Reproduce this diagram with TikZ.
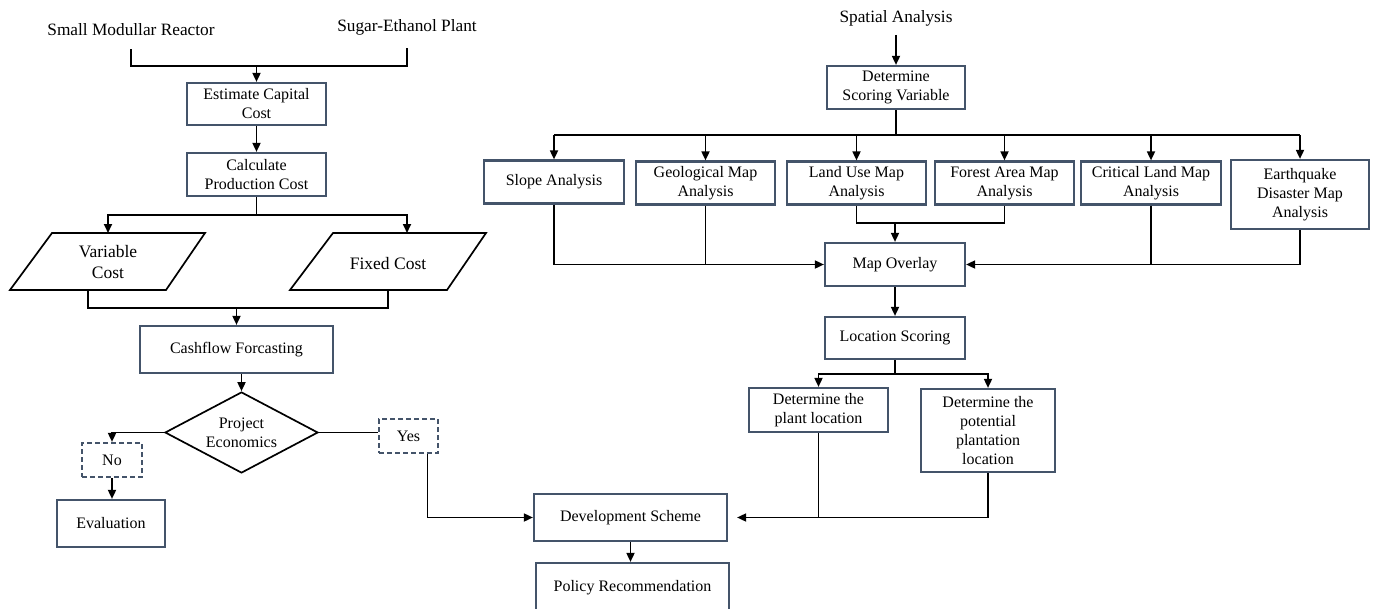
\documentclass[tikz,border=0pt]{standalone}
\usepackage{fontspec}
\setmainfont{Liberation Serif}
\usetikzlibrary{arrows.meta,shapes.geometric}
\definecolor{boxc}{RGB}{68,84,106}
\begin{document}
\begin{tikzpicture}[x=1pt,y=-1pt,
  box/.style={draw=boxc, line width=2.2pt, fill=white, inner sep=1pt, align=center, font=\fontsize{16}{19}\selectfont},
  dbox/.style={box, dashed, dash pattern=on 5pt off 3pt},
  lbl/.style={font=\fontsize{17.3}{21}\selectfont, inner sep=0pt, text height=12pt, text depth=4pt, anchor=base},
  plbl/.style={font=\fontsize{17.5}{20.7}\selectfont, inner sep=0pt, align=center},
  con/.style={line width=1.7pt, black},
  arr/.style={con, -{Triangle[length=9pt,width=8pt]}},
]
\useasboundingbox (0,0) rectangle (1374,608);
\clip (0,0) rectangle (1374,608);

% ---------- left column ----------
\node[lbl] (smr) at (131,35) {Small Modullar Reactor};
\node[lbl] (sep) at (407,31.7) {Sugar-Ethanol Plant};
\node[box, minimum width=139pt, minimum height=42pt] (ecc) at (256.5,104) {Estimate Capital\\Cost};
\node[box, minimum width=139pt, minimum height=43pt] (cpc) at (256.5,174.5) {Calculate\\Production Cost};

\draw[con] (52,233) -- (205,233) -- (166,290) -- (10,290) -- cycle;
\draw[con] (333,233) -- (486,233) -- (447,290) -- (290,290) -- cycle;
\node[plbl] (vc) at (108,262) {Variable\\Cost};
\node[plbl] (fc) at (388,264) {Fixed Cost};
\coordinate (vcin) at (108,233);
\coordinate (fcin) at (407,233);
\coordinate (vcout) at (88,290);
\coordinate (fcout) at (388,290);

\node[box, minimum width=193pt, minimum height=47pt] (cf) at (236.5,349.5) {Cashflow Forcasting};
\node[draw=black, line width=1.7pt, diamond, aspect=1.9, minimum width=153pt, minimum height=81pt, inner sep=0pt, align=center, font=\fontsize{16}{19}\selectfont] (pe) at (241.5,432.5) {Project\\Economics};
\node[dbox, minimum width=60pt, minimum height=34pt] (no) at (112,460) {No};
\node[box, minimum width=108pt, minimum height=47pt] (eval) at (111,523.5) {Evaluation};
\node[dbox, minimum width=59pt, minimum height=34pt] (yes) at (408.5,436) {Yes};

\node[box, minimum width=193pt, minimum height=47pt] (ds) at (630.5,517.5) {Development Scheme};
\node[box, minimum width=193pt, minimum height=50pt] (pr) at (632.5,588) {Policy Recommendation};

\coordinate (j1) at (256.5,66);
\draw[con, shorten <=10pt, shorten >=12pt] (smr.south) |- (j1) -| (sep.south);
\draw[arr] (j1) -- (ecc.north);
\draw[arr] (ecc) -- (cpc);
\coordinate (j2) at (256.5,215);
\draw[con] (cpc.south) -- (j2);
\draw[arr] (j2) -| (vcin);
\draw[arr] (j2) -| (fcin);
\coordinate (j3) at (236.5,308);
\draw[con] (vcout) |- (j3);
\draw[con] (fcout) |- (j3);
\draw[arr] (j3) -- (cf.north);
\draw[arr] (pe.north |- cf.south) -- (pe.north);
\draw[arr] (pe.west) -| (no.north);
\draw[arr] (no.south) -- (no.south |- eval.north);
\draw[con] (pe.east) -- (pe.east -| yes.west);
\draw[arr] ([xshift=19pt]yes.south) |- (ds.west);
\draw[arr] (ds.south) -- (ds.south |- pr.north);

% ---------- right column ----------
\node[lbl] (sa) at (896,22.7) {Spatial Analysis};
\node[box, minimum width=138pt, minimum height=43pt] (dsv) at (896,87.5) {Determine\\Scoring Variable};

\node[box, minimum width=140pt, minimum height=43pt] (slope) at (554,182) {Slope Analysis};
\node[box, minimum width=139pt, minimum height=43pt] (geo) at (705.5,183) {Geological Map\\Analysis};
\node[box, minimum width=139pt, minimum height=43pt] (land) at (856.5,183) {Land Use Map\\Analysis};
\node[box, minimum width=139pt, minimum height=43pt] (forest) at (1004.5,183) {Forest Area Map\\Analysis};
\node[box, minimum width=140pt, minimum height=43pt] (crit) at (1151,183) {Critical Land Map\\Analysis};
\node[box, minimum width=138pt, minimum height=69pt] (eq) at (1300,194.5) {Earthquake\\Disaster Map\\Analysis};

\node[box, minimum width=140pt, minimum height=43pt] (mo) at (895,264.5) {Map Overlay};
\node[box, minimum width=140pt, minimum height=42pt] (ls) at (895,338) {Location Scoring};
\node[box, minimum width=139pt, minimum height=44pt] (dpl) at (818.5,410) {Determine the\\plant location};
\node[box, minimum width=134pt, minimum height=83pt] (dpp) at (988,430.5) {Determine the\\potential\\plantation\\location};

\draw[arr, shorten <=8pt] (sa.south) -- (dsv.north);
\coordinate (j4) at (896,135);
\draw[con] (dsv.south) -- (j4);
\draw[con] (slope.north |- j4) -- (eq.north |- j4);
\foreach \n in {slope,geo,land,forest,crit,eq}
  \draw[arr] (\n.north |- j4) -- (\n.north);

\coordinate (j5) at (895,223);
\draw[con] (land.south) |- (j5) -| (forest.south);
\draw[arr] (j5) -- (mo.north);
\draw[arr] (slope.south) |- (mo.west);
\draw[con] (geo.south) -- (geo.south |- mo.west);
\draw[arr] (eq.south) |- (mo.east);
\draw[con] (crit.south) -- (crit.south |- mo.east);
\draw[arr] (mo) -- (ls);

\coordinate (j6) at (895,374);
\draw[con] (ls.south) -- (j6);
\draw[arr] (j6) -| (dpl.north);
\draw[arr] (j6) -| (dpp.north);
\draw[arr, shorten >=9pt] (dpl.south) |- (ds.east);
\draw[con] (dpp.south) |- (dpl.south |- ds.east);
\end{tikzpicture}
\end{document}
